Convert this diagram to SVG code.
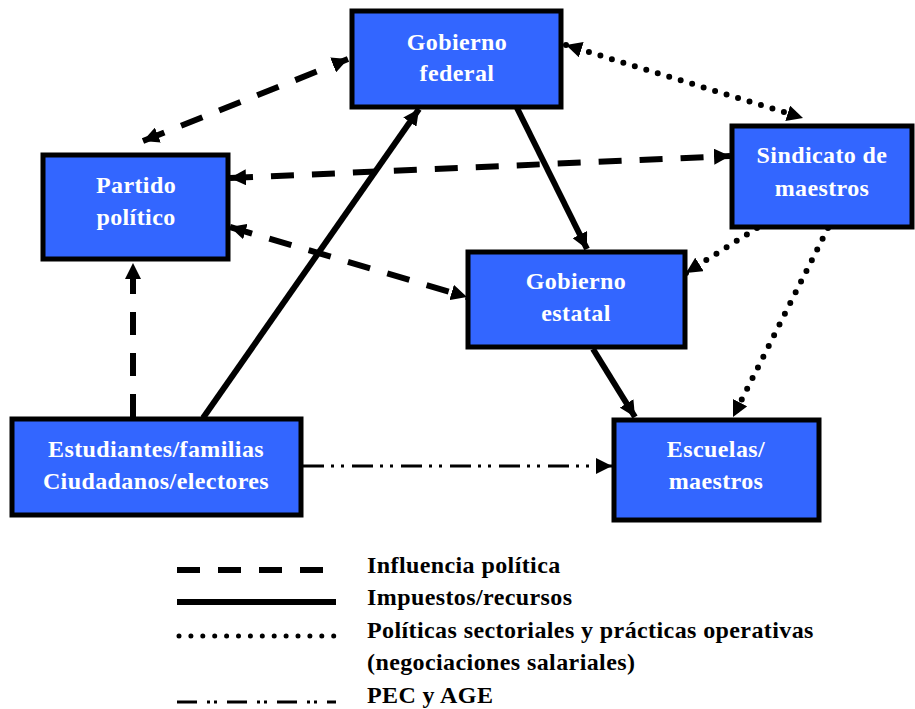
<svg xmlns="http://www.w3.org/2000/svg" width="915" height="709" viewBox="0 0 915 709">
<style>
.box{fill:#3366FF;stroke:#000;stroke-width:5}
.lbl{font-family:"Liberation Serif",serif;font-weight:bold;font-size:24px;letter-spacing:0.4px;fill:#fff;text-anchor:middle}
.leg{font-family:"Liberation Serif",serif;font-weight:bold;font-size:24px;letter-spacing:0.4px;fill:#000}
.dash{stroke:#000;stroke-width:6;fill:none;stroke-dasharray:23 18}
.solid{stroke:#000;stroke-width:6;fill:none}
.dot{stroke:#000;stroke-width:6;fill:none;stroke-dasharray:0 12;stroke-linecap:round}
.dd{stroke:#000;stroke-width:3;fill:none;stroke-dasharray:21 7 3 7 3 8}
</style>
<defs>
<marker id="ah" viewBox="0 0 10 10" refX="10" refY="5" markerWidth="16" markerHeight="16" markerUnits="userSpaceOnUse" orient="auto-start-reverse">
<path d="M0,0 L10,5 L0,10 z" fill="#000"/>
</marker>
</defs>
<g id="connectors">
<line class="dash" x1="143" y1="141" x2="348" y2="59" marker-start="url(#ah)" marker-end="url(#ah)"/>
<line class="dash" x1="230" y1="178" x2="730" y2="156" marker-start="url(#ah)" marker-end="url(#ah)"/>
<line class="dash" x1="230" y1="227" x2="467" y2="297" marker-start="url(#ah)" marker-end="url(#ah)"/>
<line class="dash" x1="133" y1="417" x2="133" y2="263" marker-end="url(#ah)"/>
<line class="solid" x1="203" y1="418" x2="419" y2="109" marker-end="url(#ah)"/>
<line class="solid" x1="517" y1="108" x2="587" y2="249" marker-end="url(#ah)"/>
<line class="solid" x1="593" y1="349" x2="635" y2="417" marker-end="url(#ah)"/>
<line class="dot" x1="566" y1="45" x2="803" y2="118" marker-start="url(#ah)" marker-end="url(#ah)"/>
<line class="dot" x1="757" y1="228" x2="686" y2="273" marker-end="url(#ah)"/>
<line class="dot" x1="828" y1="228" x2="733" y2="417" marker-end="url(#ah)"/>
<line class="dd" x1="303" y1="466" x2="612" y2="466" marker-end="url(#ah)"/>
</g>
<g id="federal"><rect class="box" x="352" y="11" width="209" height="96"/><text class="lbl" x="457" y="50">Gobierno</text><text class="lbl" x="457" y="81">federal</text></g>
<g id="partido"><rect class="box" x="43" y="155" width="185" height="104"/><text class="lbl" x="136" y="193">Partido</text><text class="lbl" x="136" y="225">político</text></g>
<g id="sindicato"><rect class="box" x="732" y="126" width="180" height="101"/><text class="lbl" x="822" y="163">Sindicato de</text><text class="lbl" x="822" y="196">maestros</text></g>
<g id="estatal"><rect class="box" x="468" y="252" width="217" height="95"/><text class="lbl" x="576" y="289">Gobierno</text><text class="lbl" x="576" y="321">estatal</text></g>
<g id="estudiantes"><rect class="box" x="12" y="419" width="289" height="96"/><text class="lbl" x="156" y="457">Estudiantes/familias</text><text class="lbl" x="156" y="489">Ciudadanos/electores</text></g>
<g id="escuelas"><rect class="box" x="614" y="420" width="205" height="100"/><text class="lbl" x="716" y="457">Escuelas/</text><text class="lbl" x="716" y="489">maestros</text></g>
<g id="legend">
<line class="dash" x1="177" y1="570" x2="330" y2="570"/>
<line class="solid" x1="177" y1="602" x2="336" y2="602"/>
<line class="dot" x1="179" y1="636" x2="336" y2="636" style="stroke-width:5;stroke-dasharray:0 11.9"/>
<line class="dd" x1="177" y1="702" x2="336" y2="702" style="stroke-dasharray:20 10 3 4 3 10"/>
<text class="leg" x="367" y="573">Influencia política</text>
<text class="leg" x="367" y="605">Impuestos/recursos</text>
<text class="leg" x="367" y="638">Políticas sectoriales y prácticas operativas</text>
<text class="leg" x="367" y="670">(negociaciones salariales)</text>
<text class="leg" x="367" y="703">PEC y AGE</text>
</g>
</svg>
